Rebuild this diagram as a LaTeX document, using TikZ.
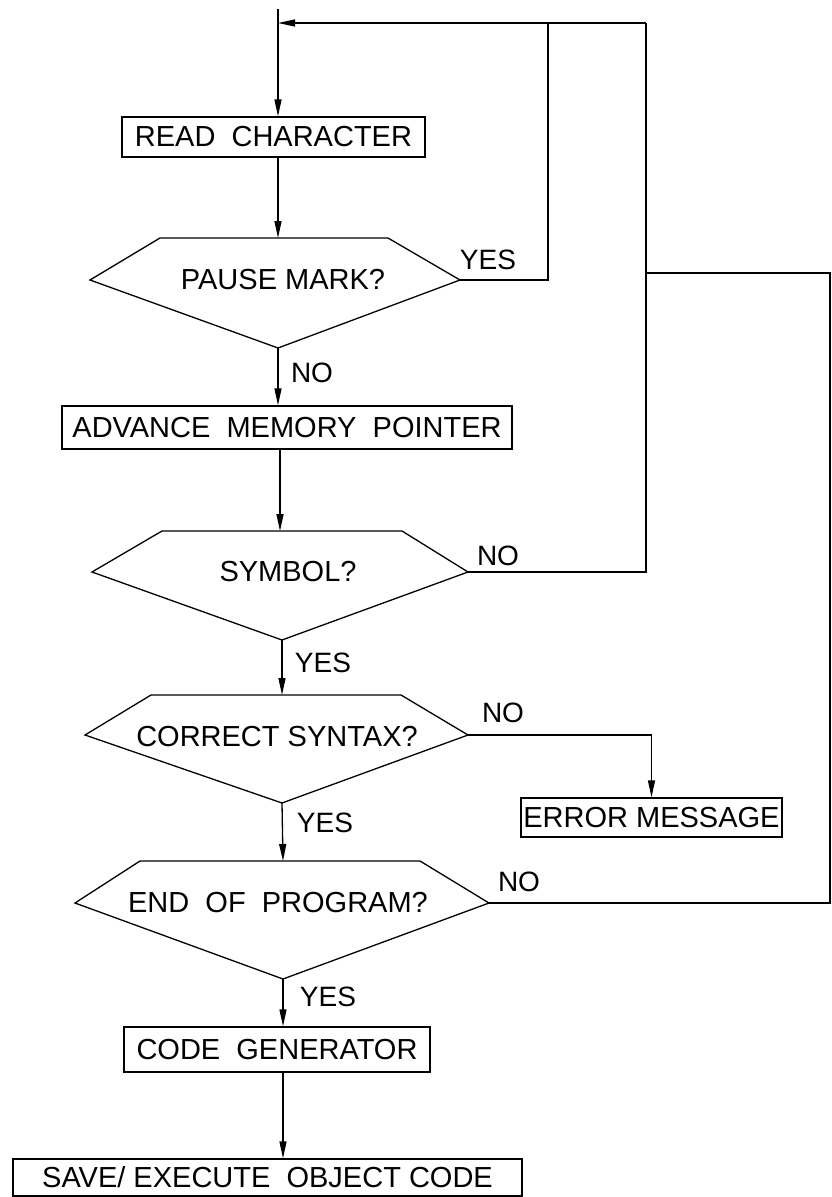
\documentclass[tikz,border=0pt]{standalone}
\usepackage{fontspec}
\setmainfont{Liberation Sans}
\usetikzlibrary{arrows.meta}
\begin{document}
\begin{tikzpicture}[x=1pt,y=-1pt,
  line width=1.3pt,
  arr/.style={-{Triangle[length=17pt,width=7pt]}},
  txt/.style={font=\fontsize{29}{34}\selectfont, inner sep=0pt},
  lbl/.style={font=\fontsize{28}{34}\selectfont, inner sep=0pt},
  procbox/.style={draw, rectangle, inner sep=0pt, font=\fontsize{29}{34}\selectfont},
  decshape/.style={draw, line join=miter}]
\useasboundingbox (0,0) rectangle (832,1197);

% ---- process boxes ----
\node[procbox, minimum width=303pt, minimum height=40pt] (read) at (273.5,137) {READ\ \ CHARACTER};
\node[procbox, minimum width=450pt, minimum height=43pt] (adv) at (287,427.5) {ADVANCE\ \ MEMORY\ \ POINTER};
\node[procbox, minimum width=261pt, minimum height=39pt] (err) at (651.5,817.5) {ERROR MESSAGE};
\node[procbox, minimum width=306pt, minimum height=45pt] (cg) at (277,1049.5) {CODE\ \ GENERATOR};
\node[procbox, minimum width=509pt, minimum height=37pt] (save) at (267.5,1177.5) {SAVE/ EXECUTE\ \ OBJECT CODE};

% ---- decision shapes: corner coordinates ----
\coordinate (pmL) at (90,280);  \coordinate (pmTL) at (160,238); \coordinate (pmTR) at (388,238);
\coordinate (pmR) at (460,280); \coordinate (pmB) at (278,348);  \coordinate (pmT) at (278,238);
\coordinate (symL) at (92,572);  \coordinate (symTL) at (162,531); \coordinate (symTR) at (402,531);
\coordinate (symR) at (468,572); \coordinate (symB) at (282,640);  \coordinate (symT) at (280,531);
\coordinate (csL) at (85,735);  \coordinate (csTL) at (151,695); \coordinate (csTR) at (401,695);
\coordinate (csR) at (468,735); \coordinate (csB) at (282,803);  \coordinate (csT) at (282,695);
\coordinate (eopL) at (75,903);  \coordinate (eopTL) at (140,861); \coordinate (eopTR) at (420,861);
\coordinate (eopR) at (489,903); \coordinate (eopB) at (283,979);  \coordinate (eopT) at (283,861);

\draw[decshape] (pmL) -- (pmTL) -- (pmTR) -- (pmR) -- (pmB) -- cycle;
\draw[decshape] (symL) -- (symTL) -- (symTR) -- (symR) -- (symB) -- cycle;
\draw[decshape] (csL) -- (csTL) -- (csTR) -- (csR) -- (csB) -- cycle;
\draw[decshape] (eopL) -- (eopTL) -- (eopTR) -- (eopR) -- (eopB) -- cycle;

\node[txt] (pm) at (283,280) {PAUSE MARK?};
\node[txt] (sym) at (288,572) {SYMBOL?};
\node[txt] (cs) at (277,737) {CORRECT SYNTAX?};
\node[txt] (eop) at (278,903) {END\ \ OF\ \ PROGRAM?};

% ---- routing coordinates ----
\coordinate (start) at (278,9);
\coordinate (fb) at (278,23);
\coordinate (j1) at (548,23);
\coordinate (j2) at (646,23);
\coordinate (c1) at (830,903);
\coordinate (c2) at (830,273);
\coordinate (c3) at (646,273);

% ---- connectors ----
\draw[arr] (start) -- (start |- read.north);
\draw[arr] (pmT |- read.south) -- (pmT);
\draw (pmR) -| (j1);
\draw (symR) -| (j2);
\draw[arr] (j2) -- (fb);
\draw[arr] (pmB) -- (pmB |- adv.north);
\draw[arr] (symT |- adv.south) -- (symT);
\draw[arr] (symB) -- (csT);
\draw[arr] (csR) -| (err.north);
\draw[arr] (csB) -- (eopT);
\draw (eopR) -- (c1) -- (c2) -- (c3);
\draw[arr] (eopB) -- (eopB |- cg.north);
\draw[arr] (eopB |- cg.south) -- (eopB |- save.north);

% ---- branch labels ----
\node[lbl] (pmNo) at (312,373) {NO};
\node[lbl] (pmYes) at (488,260) {YES};
\node[lbl] (symNo) at (498,556) {NO};
\node[lbl] (symYes) at (323,663) {YES};
\node[lbl] (csNo) at (503,713) {NO};
\node[lbl] (csYes) at (325,823) {YES};
\node[lbl] (eopNo) at (519,882) {NO};
\node[lbl] (eopYes) at (328,997) {YES};
\end{tikzpicture}
\end{document}
